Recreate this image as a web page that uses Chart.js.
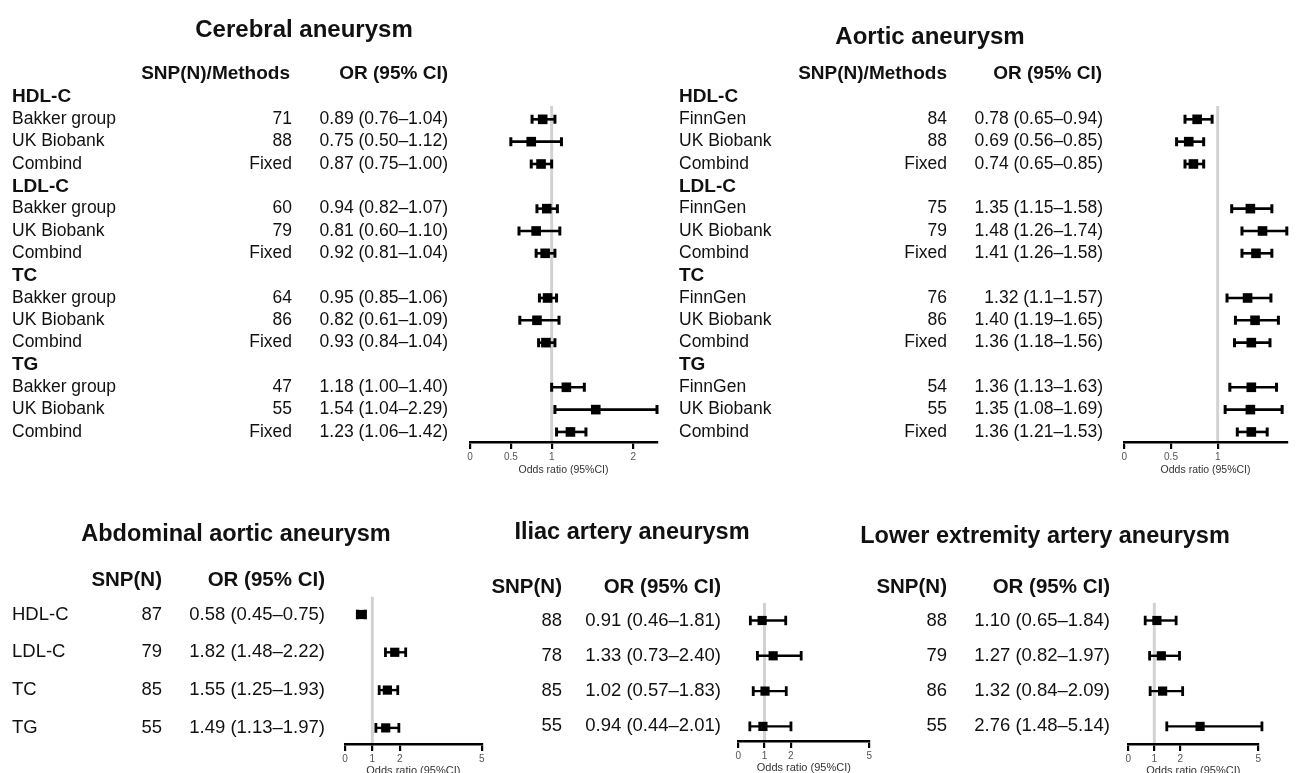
<!DOCTYPE html>
<html>
<head>
<meta charset="utf-8">
<script src="https://cdn.jsdelivr.net/npm/chart.js@4.4.1/dist/chart.umd.min.js"></script>
<style>
html,body{margin:0;padding:0;background:#fff;overflow:hidden;}
#wrap{position:relative;width:1305px;height:773px;overflow:hidden;background:#fff;}
#wrap canvas{position:absolute;left:0;top:0;}
</style>
</head>
<body>
<div id="wrap">
<canvas id="cCerebral" width="1305" height="820"></canvas>
<canvas id="cAortic" width="1305" height="820"></canvas>
<canvas id="cAbdominal" width="1305" height="820"></canvas>
<canvas id="cIliac" width="1305" height="820"></canvas>
<canvas id="cLower" width="1305" height="820"></canvas>
</div>
<script>
// ---------------- DATA ----------------
const lipidTraits = ['HDL-C', 'LDL-C', 'TC', 'TG'];

const cerebralSources = ['Bakker group', 'UK Biobank', 'Combind'];
const cerebralSNP   = ['71', '88', 'Fixed', '60', '79', 'Fixed', '64', '86', 'Fixed', '47', '55', 'Fixed'];
const cerebralOR    = [0.89, 0.75, 0.87, 0.94, 0.81, 0.92, 0.95, 0.82, 0.93, 1.18, 1.54, 1.23];
const cerebralLower = [0.76, 0.50, 0.75, 0.82, 0.60, 0.81, 0.85, 0.61, 0.84, 1.00, 1.04, 1.06];
const cerebralUpper = [1.04, 1.12, 1.00, 1.07, 1.10, 1.04, 1.06, 1.09, 1.04, 1.40, 2.29, 1.42];
const cerebralCI = ['0.89 (0.76–1.04)', '0.75 (0.50–1.12)', '0.87 (0.75–1.00)',
                    '0.94 (0.82–1.07)', '0.81 (0.60–1.10)', '0.92 (0.81–1.04)',
                    '0.95 (0.85–1.06)', '0.82 (0.61–1.09)', '0.93 (0.84–1.04)',
                    '1.18 (1.00–1.40)', '1.54 (1.04–2.29)', '1.23 (1.06–1.42)'];
const cerebralTicks = [0, 0.5, 1, 2];

const aorticSources = ['FinnGen', 'UK Biobank', 'Combind'];
const aorticSNP   = ['84', '88', 'Fixed', '75', '79', 'Fixed', '76', '86', 'Fixed', '54', '55', 'Fixed'];
const aorticOR    = [0.78, 0.69, 0.74, 1.35, 1.48, 1.41, 1.32, 1.40, 1.36, 1.36, 1.35, 1.36];
const aorticLower = [0.65, 0.56, 0.65, 1.15, 1.26, 1.26, 1.10, 1.19, 1.18, 1.13, 1.08, 1.21];
const aorticUpper = [0.94, 0.85, 0.85, 1.58, 1.74, 1.58, 1.57, 1.65, 1.56, 1.63, 1.69, 1.53];
const aorticCI = ['0.78 (0.65–0.94)', '0.69 (0.56–0.85)', '0.74 (0.65–0.85)',
                  '1.35 (1.15–1.58)', '1.48 (1.26–1.74)', '1.41 (1.26–1.58)',
                  '1.32 (1.1–1.57)', '1.40 (1.19–1.65)', '1.36 (1.18–1.56)',
                  '1.36 (1.13–1.63)', '1.35 (1.08–1.69)', '1.36 (1.21–1.53)'];
const aorticTicks = [0, 0.5, 1];

const abdominalSNP   = ['87', '79', '85', '55'];
const abdominalOR    = [0.58, 1.82, 1.55, 1.49];
const abdominalLower = [0.45, 1.48, 1.25, 1.13];
const abdominalUpper = [0.75, 2.22, 1.93, 1.97];
const abdominalCI = ['0.58 (0.45–0.75)', '1.82 (1.48–2.22)', '1.55 (1.25–1.93)', '1.49 (1.13–1.97)'];

const iliacSNP   = ['88', '78', '85', '55'];
const iliacOR    = [0.91, 1.33, 1.02, 0.94];
const iliacLower = [0.46, 0.73, 0.57, 0.44];
const iliacUpper = [1.81, 2.40, 1.83, 2.01];
const iliacCI = ['0.91 (0.46–1.81)', '1.33 (0.73–2.40)', '1.02 (0.57–1.83)', '0.94 (0.44–2.01)'];

const lowerSNP   = ['88', '79', '86', '55'];
const lowerOR    = [1.10, 1.27, 1.32, 2.76];
const lowerLower = [0.65, 0.82, 0.84, 1.48];
const lowerUpper = [1.84, 1.97, 2.09, 5.14];
const lowerCI = ['1.10 (0.65–1.84)', '1.27 (0.82–1.97)', '1.32 (0.84–2.09)', '2.76 (1.48–5.14)'];

const smallTicks = [0, 1, 2, 5];

// ---------------- RENDERING ----------------
const FONT = '"Liberation Sans", Arial, Helvetica, sans-serif';
const CW = 1305, CH = 820;
const TXT = '#111111';

function groupedRows(traits, sources) {
  const rows = [];
  traits.forEach((t, g) => {
    rows.push({kind: 'group', label: t});
    sources.forEach((s, k) => rows.push({kind: 'data', label: s, i: g * sources.length + k}));
  });
  return rows.map((r, idx) => Object.assign(r, {r: idx}));
}
function flatRows(labels) {
  return labels.map((l, idx) => ({kind: 'data', label: l, i: idx, r: idx}));
}

function drawText(ctx, s, x, y, align, font) {
  ctx.font = font;
  ctx.textAlign = align;
  ctx.textBaseline = 'middle';
  ctx.fillStyle = TXT;
  ctx.fillText(s, x, y);
}

function buildPanel(id, p) {
  const areaH = p.axisY - p.top;
  const yMin = 0 - (p.row0 - p.top) / p.rowH;
  const yMax = yMin + areaH / p.rowH;
  const dataRows = p.rows.filter(r => r.kind === 'data');

  const forest = {
    id: 'forest_' + id,
    beforeDraw(chart) {
      const {ctx, chartArea, scales: {x, y}} = chart;
      const xr = x.getPixelForValue(1);
      ctx.save();
      ctx.strokeStyle = '#d2d2d2';
      ctx.lineWidth = 3;
      ctx.beginPath();
      ctx.moveTo(xr, y.getPixelForValue(p.refTop));
      ctx.lineTo(xr, chartArea.bottom);
      ctx.stroke();
      ctx.restore();
    },
    beforeDatasetsDraw(chart) {
      const {ctx, scales: {x, y}} = chart;
      ctx.save();
      ctx.strokeStyle = '#000';
      ctx.lineWidth = p.barW;
      ctx.lineCap = 'butt';
      dataRows.forEach(row => {
        const yy = y.getPixelForValue(row.r);
        const x1 = x.getPixelForValue(p.lo[row.i]);
        const x2 = x.getPixelForValue(p.hi[row.i]);
        ctx.beginPath();
        ctx.moveTo(x1, yy); ctx.lineTo(x2, yy);
        ctx.stroke();
        ctx.lineWidth = p.capW;
        ctx.beginPath();
        ctx.moveTo(x1, yy - p.cap); ctx.lineTo(x1, yy + p.cap);
        ctx.moveTo(x2, yy - p.cap); ctx.lineTo(x2, yy + p.cap);
        ctx.stroke();
        ctx.lineWidth = p.barW;
      });
      ctx.restore();
    },
    afterDraw(chart) {
      const {ctx, scales: {y}} = chart;
      ctx.save();
      drawText(ctx, p.title, p.titleX, p.titleY, 'center', 'bold ' + p.titleSize + 'px ' + FONT);
      drawText(ctx, p.snpHeader, p.hdrSnpRight, p.hdrY, 'right', 'bold ' + p.hdrSize + 'px ' + FONT);
      drawText(ctx, 'OR (95% CI)', p.hdrOrRight, p.hdrY, 'right', 'bold ' + p.hdrSize + 'px ' + FONT);
      p.rows.forEach(row => {
        const yy = y.getPixelForValue(row.r);
        if (row.kind === 'group') {
          drawText(ctx, row.label, p.labelX, yy, 'left', 'bold ' + p.groupSize + 'px ' + FONT);
        } else {
          if (row.label) drawText(ctx, row.label, p.labelX, yy, 'left', p.textSize + 'px ' + FONT);
          drawText(ctx, p.snp[row.i], p.snpRight, yy, 'right', p.textSize + 'px ' + FONT);
          drawText(ctx, p.ci[row.i], p.orRight, yy, 'right', p.textSize + 'px ' + FONT);
        }
      });
      ctx.restore();
    }
  };

  return new Chart(document.getElementById(id), {
    type: 'scatter',
    data: {
      datasets: [{
        data: dataRows.map(row => ({x: p.or[row.i], y: row.r})),
        pointStyle: 'rect',
        pointRadius: p.markR,
        pointHoverRadius: p.markR,
        backgroundColor: '#000',
        borderColor: '#000',
        borderWidth: 0,
        clip: false
      }]
    },
    options: {
      responsive: false,
      animation: false,
      events: [],
      layout: {padding: {left: p.left, right: CW - p.right, top: p.top, bottom: CH - p.axisY - p.axisH}},
      plugins: {legend: {display: false}, tooltip: {enabled: false}, title: {display: false}},
      scales: {
        x: {
          type: 'linear',
          min: 0,
          max: p.xMax,
          afterBuildTicks: s => { s.ticks = p.ticks.map(v => ({value: v})); },
          afterFit: s => { s.height = p.axisH; },
          grid: {display: true, drawOnChartArea: false, drawTicks: true, tickLength: 7, color: '#000', lineWidth: 2.2},
          border: {display: true, color: '#000', width: 2.6},
          ticks: {autoSkip: false, maxRotation: 0, minRotation: 0, padding: 2, color: '#555',
                  font: {family: FONT, size: p.tickSize}, callback: v => String(v)},
          title: {display: true, text: 'Odds ratio (95%CI)', color: '#333', padding: 0,
                  font: {family: FONT, size: p.axisTitleSize}}
        },
        y: {type: 'linear', display: false, reverse: true, min: yMin, max: yMax}
      }
    },
    plugins: [forest]
  });
}

const topCommon = {top: 55, axisY: 442, axisH: 34, row0: 97, rowH: 22.33, refTop: 0.4,
  titleSize: 24, hdrSize: 19, groupSize: 19, textSize: 17.5, titleY: 30, hdrY: 74,
  markR: 6.8, barW: 2.6, capW: 3, cap: 4.5, tickSize: 10, axisTitleSize: 10.5, snpHeader: 'SNP(N)/Methods'};

buildPanel('cCerebral', Object.assign({}, topCommon, {
  rows: groupedRows(lipidTraits, cerebralSources),
  or: cerebralOR, lo: cerebralLower, hi: cerebralUpper, snp: cerebralSNP, ci: cerebralCI,
  ticks: cerebralTicks, xMax: 2.29, left: 470, right: 657,
  title: 'Cerebral aneurysm', titleX: 304,
  labelX: 12, snpRight: 292, orRight: 448, hdrSnpRight: 290, hdrOrRight: 448
}));

buildPanel('cAortic', Object.assign({}, topCommon, {
  rows: groupedRows(lipidTraits, aorticSources),
  or: aorticOR, lo: aorticLower, hi: aorticUpper, snp: aorticSNP, ci: aorticCI,
  ticks: aorticTicks, xMax: 1.74, left: 1124.3, right: 1286.8,
  title: 'Aortic aneurysm', titleX: 930, titleY: 37,
  labelX: 679, snpRight: 947, orRight: 1103, hdrSnpRight: 947, hdrOrRight: 1102
}));

const botCommon = {titleSize: 23.5, hdrSize: 20.5, groupSize: 18.5, textSize: 18.5,
  markR: 6.5, barW: 2.4, capW: 2.8, cap: 4.8, tickSize: 10, axisTitleSize: 11, snpHeader: 'SNP(N)',
  ticks: smallTicks, xMax: 5, axisH: 34};

buildPanel('cAbdominal', Object.assign({}, botCommon, {
  rows: flatRows(lipidTraits),
  or: abdominalOR, lo: abdominalLower, hi: abdominalUpper, snp: abdominalSNP, ci: abdominalCI,
  left: 345, right: 481.7, top: 590, axisY: 744, row0: 614.5, rowH: 37.8, refTop: -0.47,
  title: 'Abdominal aortic aneurysm', titleX: 236, titleY: 535, hdrY: 580,
  labelX: 12, snpRight: 162, orRight: 325, hdrSnpRight: 162, hdrOrRight: 325
}));

buildPanel('cIliac', Object.assign({}, botCommon, {
  rows: flatRows(['', '', '', '']),
  or: iliacOR, lo: iliacLower, hi: iliacUpper, snp: iliacSNP, ci: iliacCI,
  left: 738.3, right: 869.3, top: 595, axisY: 741, row0: 620.5, rowH: 35.3, refTop: -0.5,
  title: 'Iliac artery aneurysm', titleX: 632, titleY: 533, hdrY: 587,
  labelX: 490, snpRight: 562, orRight: 721, hdrSnpRight: 562, hdrOrRight: 721
}));

buildPanel('cLower', Object.assign({}, botCommon, {
  rows: flatRows(['', '', '', '']),
  or: lowerOR, lo: lowerLower, hi: lowerUpper, snp: lowerSNP, ci: lowerCI,
  left: 1128.3, right: 1258.3, top: 595, axisY: 744, row0: 620.5, rowH: 35.3, refTop: -0.5,
  title: 'Lower extremity artery aneurysm', titleX: 1045, titleY: 537, hdrY: 587,
  labelX: 870, snpRight: 947, orRight: 1110, hdrSnpRight: 947, hdrOrRight: 1110
}));
</script>
</body>
</html>
